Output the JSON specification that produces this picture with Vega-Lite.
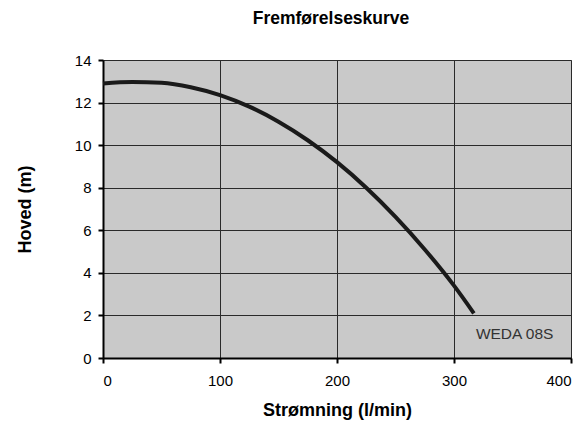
{
  "$schema": "https://vega.github.io/schema/vega-lite/v6.json",
  "width": 468,
  "height": 298,
  "autosize": {"type": "none"},
  "padding": {"left": 103, "top": 60, "right": 15, "bottom": 71},
  "background": "white",
  "title": {"text": "Fremførelseskurve", "font": "Liberation Sans", "fontSize": 17.5, "fontWeight": "bold", "color": "#000", "offset": 26, "dx": -6},
  "config": {
    "font": "Liberation Sans",
    "view": {"fill": "#c9c9c9", "stroke": "#808080", "strokeWidth": 1},
    "axis": {
      "labelFont": "Liberation Sans", "labelFontSize": 15, "labelColor": "#000",
      "titleFont": "Liberation Sans", "titleFontSize": 18, "titleFontWeight": "bold", "titleColor": "#000",
      "domainColor": "#000", "domainWidth": 2, "tickColor": "#000", "tickWidth": 2, "tickSize": 5,
      "gridColor": "#2a2a2a", "gridWidth": 1
    }
  },
  "datasets": {
    "curve": [
      {"q": 0, "h": 12.9},
      {"q": 25, "h": 12.97},
      {"q": 50, "h": 12.93},
      {"q": 75, "h": 12.72},
      {"q": 100, "h": 12.35},
      {"q": 125, "h": 11.81},
      {"q": 150, "h": 11.1},
      {"q": 175, "h": 10.23},
      {"q": 200, "h": 9.2},
      {"q": 225, "h": 8.0},
      {"q": 250, "h": 6.63},
      {"q": 275, "h": 5.1},
      {"q": 300, "h": 3.4},
      {"q": 317, "h": 2.1}
    ],
    "label": [{"q": 317, "h": 2.1, "name": "WEDA 08S"}]
  },
  "layer": [
    {
      "data": {"name": "curve"},
      "mark": {"type": "line", "color": "#1a1a1a", "strokeWidth": 4, "interpolate": "monotone", "strokeCap": "butt"},
      "encoding": {
        "x": {"field": "q", "type": "quantitative", "scale": {"domain": [0, 400]},
              "axis": {"title": "Strømning (l/min)", "values": [0, 100, 200, 300, 400], "labelPadding": 10, "titlePadding": 13}},
        "y": {"field": "h", "type": "quantitative", "scale": {"domain": [0, 14]},
              "axis": {"title": "Hoved (m)", "values": [0, 2, 4, 6, 8, 10, 12, 14], "labelPadding": 7, "titlePadding": 40}}
      }
    },
    {
      "data": {"name": "label"},
      "mark": {"type": "text", "align": "left", "baseline": "middle", "dx": 2, "dy": 21, "fontSize": 15.5, "color": "#333", "font": "Liberation Sans"},
      "encoding": {
        "x": {"field": "q", "type": "quantitative"},
        "y": {"field": "h", "type": "quantitative"},
        "text": {"field": "name"}
      }
    }
  ]
}
